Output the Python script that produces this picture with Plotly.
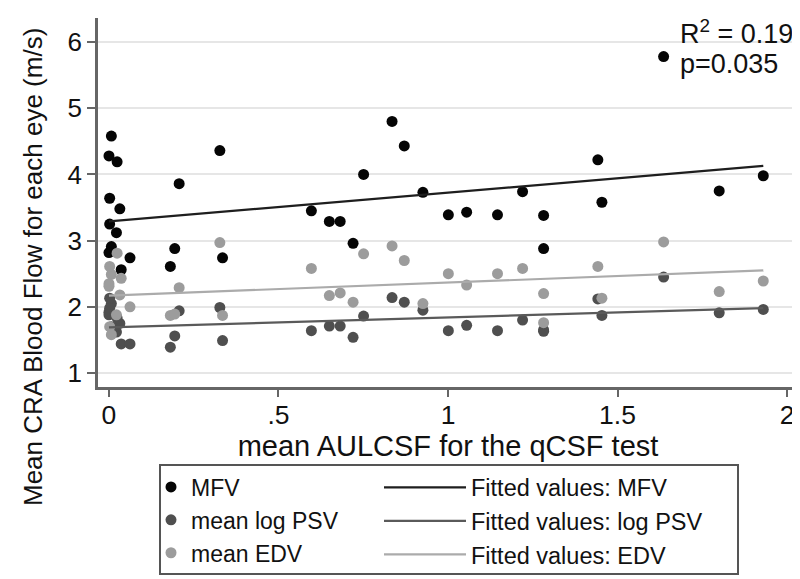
import plotly.graph_objects as go

# ---- data ----
aulcsf = [0.007, 0.000, 0.024, 0.002, 0.032, 0.002, 0.022, 0.007, 0.000, 0.036, 0.062,
          0.181, 0.194, 0.207, 0.327, 0.335, 0.597, 0.650, 0.682, 0.720, 0.751,
          0.835, 0.871, 0.926, 1.001, 1.055, 1.146, 1.220, 1.282, 1.282,
          1.442, 1.454, 1.636, 1.800, 1.930]
mfv = [4.58, 4.28, 4.19, 3.64, 3.48, 3.25, 3.12, 2.91, 2.82, 2.56, 2.74,
       2.61, 2.88, 3.86, 4.36, 2.74, 3.45, 3.29, 3.29, 2.96, 4.00,
       4.80, 4.43, 3.73, 3.39, 3.43, 3.39, 3.74, 3.38, 2.88,
       4.22, 3.58, 5.78, 3.75, 3.98]
log_psv = [2.05, 1.92, 1.83, 2.13, 1.75, 1.98, 1.62, 1.70, 1.88, 1.44, 1.44,
           1.39, 1.56, 1.94, 1.99, 1.49, 1.64, 1.71, 1.71, 1.54, 1.86,
           2.14, 2.07, 1.95, 1.64, 1.72, 1.64, 1.80, 1.63, 1.65,
           2.12, 1.87, 2.45, 1.91, 1.96]
edv = [2.49, 2.35, 2.81, 2.61, 2.18, 1.70, 1.88, 1.58, 2.31, 2.43, 2.00,
       1.87, 1.89, 2.29, 2.97, 1.87, 2.58, 2.17, 2.21, 2.07, 2.80,
       2.92, 2.70, 2.05, 2.50, 2.33, 2.50, 2.58, 2.20, 1.76,
       2.61, 2.13, 2.98, 2.23, 2.39]

fit_x = [0.0, 1.93]
fit_mfv = [3.29, 4.13]
fit_psv = [1.69, 1.98]
fit_edv = [2.17, 2.55]

x_ticks = [0, 0.5, 1, 1.5, 2]
x_tick_labels = ["0", ".5", "1", "1.5", "2"]
y_ticks = [1, 2, 3, 4, 5, 6]

FONT = "Liberation Sans, Arial, Helvetica, sans-serif"
TXT = "#111111"
C_MFV, C_PSV, C_EDV = "#050505", "#4f4f4f", "#9c9c9c"
L_MFV, L_PSV, L_EDV = "#1e1e1e", "#5a5a5a", "#ababab"

fig = go.Figure()
fig.add_trace(go.Scatter(x=aulcsf, y=mfv, mode="markers", name="MFV",
                         marker=dict(color=C_MFV, size=11), legend="legend", legendrank=1))
fig.add_trace(go.Scatter(x=aulcsf, y=log_psv, mode="markers", name="mean log PSV",
                         marker=dict(color=C_PSV, size=11), legend="legend", legendrank=2))
fig.add_trace(go.Scatter(x=aulcsf, y=edv, mode="markers", name="mean EDV",
                         marker=dict(color=C_EDV, size=11), legend="legend", legendrank=3))
fig.add_trace(go.Scatter(x=fit_x, y=fit_mfv, mode="lines", name="Fitted values: MFV",
                         line=dict(color=L_MFV, width=2.2), legend="legend2", legendrank=4))
fig.add_trace(go.Scatter(x=fit_x, y=fit_psv, mode="lines", name="Fitted values: log PSV",
                         line=dict(color=L_PSV, width=2.2), legend="legend2", legendrank=5))
fig.add_trace(go.Scatter(x=fit_x, y=fit_edv, mode="lines", name="Fitted values: EDV",
                         line=dict(color=L_EDV, width=2.2), legend="legend2", legendrank=6))

H_PLOT = 369.0
def py(Y):
    return (379.0 - Y) / H_PLOT
def px(X):
    return (X - 90.0) / 700.0

fig.update_layout(
    width=800, height=579,
    margin=dict(l=90, r=10, t=10, b=200),
    paper_bgcolor="white", plot_bgcolor="white",
    font=dict(family=FONT, color=TXT),
    xaxis=dict(range=[-0.0324, 2.0324], tickvals=x_ticks, ticktext=x_tick_labels,
               ticks="outside", ticklen=7, tickwidth=2, tickcolor="#666666",
               ticklabelstandoff=-5,
               showline=True, linecolor="#666666", linewidth=2.5,
               showgrid=False, zeroline=False,
               tickfont=dict(size=26.5, family=FONT, color=TXT),
               title=dict(text="mean AULCSF for the qCSF test", standoff=0,
                          font=dict(size=29, family=FONT, color=TXT))),
    yaxis=dict(range=[0.789, 6.363], tickvals=y_ticks,
               ticks="outside", ticklen=8, tickwidth=2, tickcolor="#666666",
               showline=True, linecolor="#666666", linewidth=2.5,
               showgrid=True, gridcolor="#e6e6e6", gridwidth=1.5, zeroline=False,
               tickfont=dict(size=26, family=FONT, color=TXT)),
    legend=dict(x=px(143), xanchor="left", y=py(457.5), yanchor="top",
                bgcolor="rgba(0,0,0,0)", borderwidth=0,
                font=dict(size=23, family=FONT, color=TXT),
                itemwidth=30, tracegroupgap=0),
    legend2=dict(x=px(371), xanchor="left", y=py(457.5), yanchor="top",
                 bgcolor="rgba(0,0,0,0)", borderwidth=0,
                 font=dict(size=23.5, family=FONT, color=TXT),
                 itemwidth=82, tracegroupgap=0),
    showlegend=True,
    shapes=[dict(type="rect", xref="paper", yref="paper",
                 x0=px(152), x1=px(730), y0=py(566), y1=py(457),
                 line=dict(color="#555555", width=2), fillcolor="rgba(0,0,0,0)", layer="below")],
    annotations=[
        dict(text="Mean CRA Blood Flow for each eye (m/s)", xref="paper", yref="paper",
             x=px(25), y=py(259), xanchor="center", yanchor="middle", textangle=-90,
             showarrow=False, font=dict(size=26, family=FONT, color=TXT)),
        dict(text="R<sup>2</sup> = 0.19", xref="paper", yref="paper", x=px(670), y=py(24),
             xanchor="left", yanchor="middle", showarrow=False,
             font=dict(size=27, family=FONT, color=TXT)),
        dict(text="p=0.035", xref="paper", yref="paper", x=px(670), y=py(56),
             xanchor="left", yanchor="middle", showarrow=False,
             font=dict(size=27, family=FONT, color=TXT)),
    ],
)

fig.write_html("out.html")
